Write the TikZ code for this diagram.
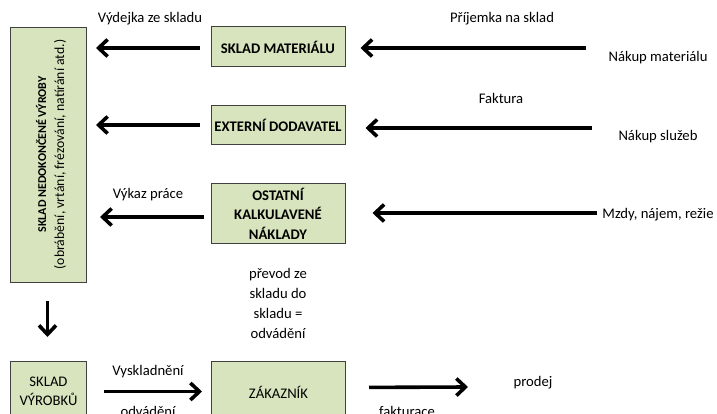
\documentclass[tikz,border=0pt]{standalone}
\usepackage{fontspec}
\setmainfont{Carlito}
\usetikzlibrary{arrows.meta}
\usetikzlibrary{positioning}

\definecolor{boxgreen}{HTML}{D7E4BD}
\newcommand{\bodyfont}{\fontsize{14.67}{19.5}\selectfont}
\tikzset{
  box/.style={draw=black!75,fill=boxgreen,line width=1pt,font=\bodyfont\bfseries,align=center,inner sep=0pt},
  plainbox/.style={box,font=\bodyfont},
  flow/.style={line width=3.6pt,-{Straight Barb[length=9pt,width=17pt]}},
  lbl/.style={align=center,inner sep=0pt}
}

\begin{document}
\begin{tikzpicture}[x=1pt,y=-1pt,font=\bodyfont]
\useasboundingbox (0,0) rectangle (717,414);
\clip (0,0) rectangle (717,414);

\node[box,minimum width=76,minimum height=255,anchor=north west] (nedok) at (10,27) {};
\node[lbl,rotate=90,font=\fontsize{13.8}{18}\selectfont] (nedok-text) at (51,154.5) {{\fontsize{12}{18}\selectfont\bfseries SKLAD NEDOKONČENÉ VÝROBY}\\(obrábění, vrtání, frézování, natírání atd.)};
\node[box,minimum width=134,minimum height=40] (sklad) at (278,47) {SKLAD MATERIÁLU};
\node[box,minimum width=134,minimum height=39] (ext) at (278,125.5) {EXTERNÍ DODAVATEL};
\node[box,minimum width=134,minimum height=59] (ostatni) at (278,213.5) {OSTATNÍ\\KALKULAVENÉ\\NÁKLADY};
\node[plainbox,minimum width=76,minimum height=60,anchor=north west] (vyrobky) at (10,361) {SKLAD\\VÝROBKŮ};
\node[plainbox,minimum width=134,minimum height=62,anchor=north west] (zakaznik) at (211,361) {ZÁKAZNÍK};

\coordinate (in1) at (586,48);
\coordinate (in2) at (592,128);
\coordinate (in3) at (597,213);
\coordinate (sale) at (468,387);

\draw[flow,shorten <=11pt,shorten >=9pt] ([yshift=-1pt]sklad.west) -- ([yshift=-1pt]sklad.west -| nedok.east);
\draw[flow,shorten <=11pt,shorten >=9pt] ([yshift=0.5pt]ext.west) -- ([yshift=0.5pt]ext.west -| nedok.east);
\draw[flow,shorten <=7pt,shorten >=13pt] ([yshift=-3.5pt]ostatni.west) -- ([yshift=-3.5pt]ostatni.west -| nedok.east);
\draw[flow,shorten >=15pt] (in1) -- (in1 -| sklad.east);
\draw[flow,shorten >=20pt] (in2) -- (in2 -| ext.east);
\draw[flow,shorten >=27pt] (in3) -- (in3 -| ostatni.east);
\draw[flow,shorten <=18pt,shorten >=24pt] ([xshift=-1pt]nedok.south) -- ([xshift=-1pt]nedok.south |- vyrobky.north);
\draw[flow,shorten <=17pt,shorten >=9pt] (vyrobky.east) -- (vyrobky.east -| zakaznik.west);
\draw[flow,shorten <=23pt] ([yshift=5pt]zakaznik.east) -- (sale);

\node[lbl] (vydejka) at (150,19) {Výdejka ze skladu};
\node[lbl] (prijemka) at (502,19) {Příjemka na sklad};
\node[lbl] (nakup-mat) at (658,58) {Nákup materiálu};
\node[lbl] (faktura) at (501,98) {Faktura};
\node[lbl] (nakup-sl) at (658,137) {Nákup služeb};
\node[lbl] (mzdy) at (658,215) {Mzdy, nájem, režie};
\node[lbl] (vykaz) at (148,195) {Výkaz práce};
\node[lbl,font=\fontsize{14.67}{20}\selectfont] (prevod) at (278,303) {převod ze\\skladu do\\skladu =\\odvádění};
\node[lbl] (vyskl) at (148,372) {Vyskladnění};
\node[lbl] (odvadeni) at (148,411) {odvádění};
\node[lbl] (prodej) at (533,383) {prodej};
\node[lbl] (fakturace) at (407,411) {fakturace};

\end{tikzpicture}
\end{document}
